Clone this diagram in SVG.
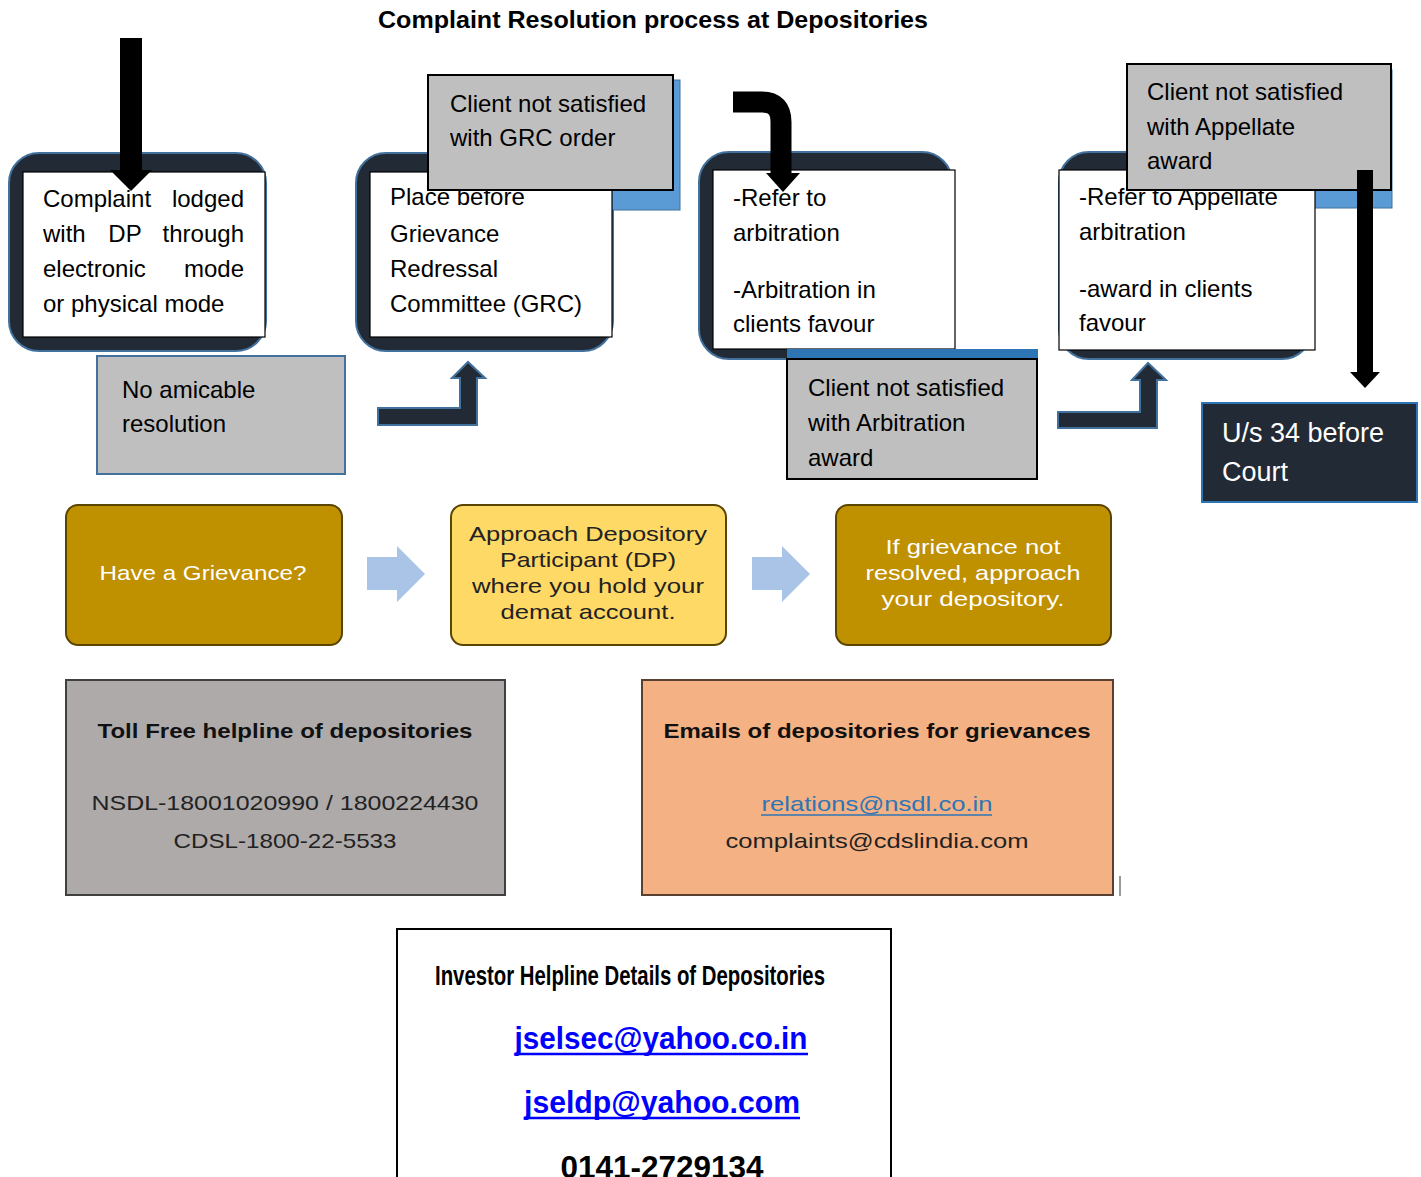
<svg xmlns="http://www.w3.org/2000/svg" width="1421" height="1177" viewBox="0 0 1421 1177">
<style>
.t{font-family:"Liberation Sans",Arial,sans-serif;font-size:24px;fill:#000}
.dark{fill:#222A35;stroke:#41719C;stroke-width:2}
.white{fill:#fff;stroke:#000;stroke-width:1.2}
.gray{fill:#BFBFBF;stroke:#000;stroke-width:2}
.m{font-family:"Liberation Sans",Arial,sans-serif;font-size:21px;text-anchor:middle}
.b{font-weight:bold}
</style>
<rect width="1421" height="1177" fill="#fff"/>
<text class="t b" x="378" y="28" textLength="550" lengthAdjust="spacingAndGlyphs">Complaint Resolution process at Depositories</text>

<g id="node-complaint">
<rect class="dark" x="9" y="153" width="257" height="198" rx="30"/>
<rect class="white" x="23" y="172" width="242" height="165"/>
<text class="t" x="43" y="207">Complaint</text><text class="t" x="244" y="207" text-anchor="end">lodged</text>
<text class="t" x="43" y="242">with</text><text class="t" x="125" y="242" text-anchor="middle">DP</text><text class="t" x="244" y="242" text-anchor="end">through</text>
<text class="t" x="43" y="277">electronic</text><text class="t" x="244" y="277" text-anchor="end">mode</text>
<text class="t" x="43" y="312">or physical mode</text>
</g>

<g id="node-no-amicable">
<rect x="97" y="356" width="248" height="118" fill="#BFBFBF" stroke="#41719C" stroke-width="2"/>
<text class="t" x="122" y="398">No amicable</text>
<text class="t" x="122" y="432">resolution</text>
</g>

<g id="node-grc">
<rect class="dark" x="356" y="153" width="257" height="198" rx="30"/>
<rect x="436" y="80" width="244" height="130" fill="#5B9BD5" stroke="#41719C" stroke-width="1"/>
<rect class="white" x="370" y="172" width="242" height="165"/>
<text class="t" x="390" y="205">Place before</text>
<text class="t" x="390" y="242">Grievance</text>
<text class="t" x="390" y="277">Redressal</text>
<text class="t" x="390" y="312">Committee (GRC)</text>
</g>

<g id="node-grc-unsatisfied">
<rect class="gray" x="428" y="75" width="245" height="115"/>
<text class="t" x="450" y="112">Client not satisfied</text>
<text class="t" x="450" y="146">with GRC order</text>
</g>

<g id="node-arbitration">
<rect class="dark" x="699" y="152" width="253" height="207" rx="30"/>
<rect class="white" x="713" y="170" width="242" height="179"/>
<text class="t" x="733" y="206">-Refer to</text>
<text class="t" x="733" y="241">arbitration</text>
<text class="t" x="733" y="298">-Arbitration in</text>
<text class="t" x="733" y="332">clients favour</text>
</g>

<g id="node-arb-unsatisfied">
<rect x="787" y="349" width="251" height="12" fill="#2E75B6"/>
<rect class="gray" x="787" y="359" width="250" height="120"/>
<text class="t" x="808" y="396">Client not satisfied</text>
<text class="t" x="808" y="431">with Arbitration</text>
<text class="t" x="808" y="466">award</text>
</g>

<g id="node-appellate">
<rect class="dark" x="1059" y="152" width="253" height="207" rx="30"/>
<rect x="1135" y="70" width="257" height="138" fill="#5B9BD5" stroke="#41719C" stroke-width="1"/>
<rect class="white" x="1059" y="170" width="256" height="180"/>
<text class="t" x="1079" y="205">-Refer to Appellate</text>
<text class="t" x="1079" y="240">arbitration</text>
<text class="t" x="1079" y="297">-award in clients</text>
<text class="t" x="1079" y="331">favour</text>
</g>

<g id="node-appellate-unsatisfied">
<rect class="gray" x="1127" y="64" width="264" height="126"/>
<text class="t" x="1147" y="100">Client not satisfied</text>
<text class="t" x="1147" y="135">with Appellate</text>
<text class="t" x="1147" y="169">award</text>
</g>

<g id="node-court">
<rect x="1202" y="403" width="215" height="99" fill="#222A35" stroke="#2E75B6" stroke-width="2"/>
<text class="t" x="1222" y="442" style="font-size:27px;fill:#fff">U/s 34 before</text>
<text class="t" x="1222" y="481" style="font-size:27px;fill:#fff">Court</text>
</g>

<g id="connectors">
<rect x="120" y="38" width="22" height="135" fill="#000"/>
<polygon points="110,170 152,170 131,191" fill="#000"/>
<polygon class="dark" points="378,408 460,408 460,378 452,378 468,362 485,378 477,378 477,425 378,425"/>
<path d="M733,102 H762 Q781,102 781,122 V176" fill="none" stroke="#000" stroke-width="21"/>
<polygon points="766,173 800,173 783,192" fill="#000"/>
<polygon class="dark" points="1058,412 1140,412 1140,380 1132,380 1148,363 1166,380 1157,380 1157,428 1058,428"/>
<rect x="1357" y="170" width="16" height="204" fill="#000"/>
<polygon points="1350,372 1380,372 1365,388" fill="#000"/>
<polygon points="367,557 397,557 397,546 425,574 397,602 397,590 367,590" fill="#A9C4E6"/>
<polygon points="752,557 782,557 782,546 810,574 782,602 782,590 752,590" fill="#A9C4E6"/>
</g>

<g id="node-have-grievance">
<rect x="66" y="505" width="276" height="140" rx="12" fill="#BF9000" stroke="#5A4500" stroke-width="2"/>
<text class="m" x="203" y="580" fill="#fff" textLength="207" lengthAdjust="spacingAndGlyphs">Have a Grievance?</text>
</g>
<g id="node-approach-dp">
<rect x="451" y="505" width="275" height="140" rx="12" fill="#FFD966" stroke="#5A4500" stroke-width="2"/>
<text class="m" x="588" y="541" fill="#222" textLength="238" lengthAdjust="spacingAndGlyphs">Approach Depository</text>
<text class="m" x="588" y="567" fill="#222" textLength="176" lengthAdjust="spacingAndGlyphs">Participant (DP)</text>
<text class="m" x="588" y="593" fill="#222" textLength="232" lengthAdjust="spacingAndGlyphs">where you hold your</text>
<text class="m" x="588" y="619" fill="#222" textLength="175" lengthAdjust="spacingAndGlyphs">demat account.</text>
</g>
<g id="node-approach-depository">
<rect x="836" y="505" width="275" height="140" rx="12" fill="#BF9000" stroke="#5A4500" stroke-width="2"/>
<text class="m" x="973" y="554" fill="#fff" textLength="175" lengthAdjust="spacingAndGlyphs">If grievance not</text>
<text class="m" x="973" y="580" fill="#fff" textLength="215" lengthAdjust="spacingAndGlyphs">resolved, approach</text>
<text class="m" x="973" y="606" fill="#fff" textLength="183" lengthAdjust="spacingAndGlyphs">your depository.</text>
</g>

<g id="node-toll-free">
<rect x="66" y="680" width="439" height="215" fill="#AEAAAA" stroke="#404040" stroke-width="2"/>
<text class="m b" x="285" y="738" fill="#111" textLength="375" lengthAdjust="spacingAndGlyphs">Toll Free helpline of depositories</text>
<text class="m" x="285" y="810" fill="#222" textLength="387" lengthAdjust="spacingAndGlyphs">NSDL-18001020990 / 1800224430</text>
<text class="m" x="285" y="848" fill="#222" textLength="223" lengthAdjust="spacingAndGlyphs">CDSL-1800-22-5533</text>
</g>
<g id="node-emails">
<rect x="642" y="680" width="471" height="215" fill="#F4B183" stroke="#5A4030" stroke-width="2"/>
<text class="m b" x="877" y="738" fill="#111" textLength="427" lengthAdjust="spacingAndGlyphs">Emails of depositories  for grievances</text>
<text class="m" x="877" y="811" fill="#2E75B6" textLength="231" lengthAdjust="spacingAndGlyphs">relations@nsdl.co.in</text>
<line x1="761" y1="815" x2="992" y2="815" stroke="#2E75B6" stroke-width="1.5"/>
<text class="m" x="877" y="848" fill="#222" textLength="303" lengthAdjust="spacingAndGlyphs">complaints@cdslindia.com</text>
<line x1="1120" y1="876" x2="1120" y2="896" stroke="#999" stroke-width="2"/>
</g>

<g id="node-investor-helpline">
<rect x="397" y="929" width="494" height="260" fill="#fff" stroke="#000" stroke-width="2"/>
<text x="630" y="985" text-anchor="middle" font-family="'Liberation Sans Narrow','Liberation Sans',Arial,sans-serif" font-size="28" font-weight="bold" textLength="390" lengthAdjust="spacingAndGlyphs">Investor Helpline Details of Depositories</text>
<text x="661" y="1049" text-anchor="middle" font-family="'Liberation Sans',Arial,sans-serif" font-size="32" font-weight="bold" fill="#0000FF" textLength="293" lengthAdjust="spacingAndGlyphs">jselsec@yahoo.co.in</text>
<line x1="515" y1="1054" x2="808" y2="1054" stroke="#0000FF" stroke-width="2.5"/>
<text x="662" y="1113" text-anchor="middle" font-family="'Liberation Sans',Arial,sans-serif" font-size="32" font-weight="bold" fill="#0000FF" textLength="276" lengthAdjust="spacingAndGlyphs">jseldp@yahoo.com</text>
<line x1="524" y1="1118" x2="800" y2="1118" stroke="#0000FF" stroke-width="2.5"/>
<text x="662" y="1178" text-anchor="middle" font-family="'Liberation Sans',Arial,sans-serif" font-size="32" font-weight="bold" fill="#000" textLength="203" lengthAdjust="spacingAndGlyphs">0141-2729134</text>
</g>
</svg>
